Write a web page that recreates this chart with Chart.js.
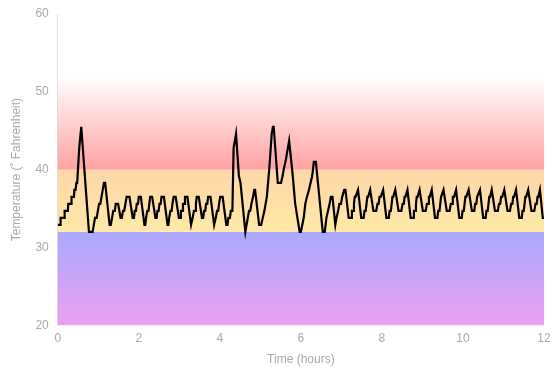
<!DOCTYPE html>
<html>
<head>
<meta charset="utf-8">
<script src="https://cdn.jsdelivr.net/npm/chart.js@4.4.1/dist/chart.umd.min.js"></script>
<style>
  html, body { margin: 0; padding: 0; background: #fff; }
  #wrap { width: 560px; height: 378px; }
</style>
</head>
<body>
<div id="wrap"><canvas id="tempChart" width="560" height="378"></canvas></div>
<script>
// Readings: [time in hours, temperature in F]
const readings = [
  [0.00, 32.9], [0.06, 32.9], [0.07, 33.8], [0.16, 33.8], [0.17, 34.7], [0.25, 34.7],
  [0.26, 35.6], [0.33, 35.6], [0.34, 36.5], [0.40, 36.5], [0.41, 37.4], [0.44, 37.4],
  [0.46, 38.3], [0.48, 38.3], [0.53, 42.8], [0.58, 45.5], [0.77, 32.0], [0.86, 32.0],
  [0.89, 32.9], [0.92, 33.8], [0.96, 33.8], [0.99, 34.7], [1.02, 35.6], [1.05, 35.6],
  [1.08, 36.5], [1.11, 37.4], [1.14, 38.3], [1.17, 38.3], [1.28, 32.9], [1.31, 32.9],
  [1.34, 33.8], [1.37, 34.7], [1.41, 34.7], [1.43, 35.6], [1.49, 35.6], [1.55, 33.8],
  [1.58, 33.8], [1.61, 34.7], [1.64, 34.7], [1.67, 35.6], [1.70, 36.5], [1.77, 36.5],
  [1.85, 33.8], [1.88, 33.8], [1.90, 34.7], [1.93, 34.7], [1.95, 35.6], [1.98, 35.6], [2.00, 36.5], [2.05, 36.5],
  [2.14, 32.9], [2.16, 32.9], [2.18, 33.8], [2.21, 34.7], [2.24, 34.7], [2.26, 35.6], [2.28, 36.5], [2.33, 36.5],
  [2.41, 33.8], [2.44, 33.8], [2.46, 34.7], [2.49, 34.7], [2.51, 35.6], [2.54, 35.6], [2.56, 36.5], [2.62, 36.5],
  [2.71, 32.9], [2.73, 32.9], [2.75, 33.8], [2.78, 34.7], [2.81, 34.7], [2.83, 35.6], [2.86, 36.5], [2.91, 36.5],
  [2.99, 33.8], [3.02, 33.8], [3.04, 34.7], [3.07, 34.7], [3.09, 35.6], [3.12, 35.6], [3.14, 36.5], [3.20, 36.5],
  [3.29, 32.9], [3.31, 32.9], [3.33, 33.8], [3.36, 34.7], [3.39, 34.7], [3.41, 35.6], [3.43, 36.5], [3.48, 36.5],
  [3.56, 33.8], [3.59, 33.8], [3.61, 34.7], [3.64, 34.7], [3.66, 35.6], [3.69, 35.6], [3.71, 36.5], [3.77, 36.5],
  [3.86, 32.9], [3.88, 32.9], [3.90, 33.8], [3.93, 34.7], [3.96, 34.7], [3.98, 35.6], [4.01, 36.5], [4.07, 36.5],
  [4.16, 32.9], [4.19, 32.9], [4.21, 33.8], [4.25, 33.8], [4.27, 34.7], [4.31, 34.7], [4.34, 42.8], [4.37, 43.7],
  [4.40, 44.6], [4.42, 44.6], [4.47, 39.2], [4.51, 38.3], [4.63, 32.0],
  [4.66, 32.9], [4.69, 33.8], [4.72, 34.7], [4.75, 34.7], [4.78, 35.6], [4.82, 36.5], [4.85, 37.4], [4.87, 37.4],
  [4.97, 32.9], [5.02, 32.9], [5.06, 33.8], [5.10, 34.7], [5.13, 35.6], [5.16, 36.5], [5.22, 40.1], [5.28, 44.6],
  [5.31, 45.5], [5.33, 45.5], [5.43, 38.3], [5.51, 38.3], [5.55, 39.2], [5.58, 40.1], [5.62, 41.0], [5.65, 41.9],
  [5.68, 42.8], [5.71, 43.7], [5.73, 43.7], [5.80, 39.2], [5.86, 35.6], [5.97, 32.0], [6.00, 32.0],
  [6.07, 33.8], [6.11, 35.6], [6.15, 36.5], [6.20, 37.4], [6.24, 38.3], [6.28, 39.2], [6.32, 41.0], [6.37, 41.0],
  [6.54, 32.0], [6.59, 32.0], [6.63, 33.8], [6.67, 34.7], [6.71, 35.6], [6.74, 36.5], [6.78, 36.5],
  [6.85, 32.9], [6.88, 33.8], [6.92, 34.7], [6.95, 35.6], [6.99, 35.6], [7.02, 36.5], [7.07, 37.4], [7.10, 37.4],
  [7.18, 33.8], [7.24, 33.8], [7.26, 34.7], [7.29, 34.7], [7.31, 35.6], [7.33, 36.5], [7.35, 36.5], [7.41, 37.4],
  [7.49, 33.8], [7.55, 33.8], [7.57, 34.7], [7.60, 34.7], [7.62, 35.6], [7.64, 36.5], [7.66, 36.5], [7.71, 37.4],
  [7.79, 34.7], [7.86, 34.7], [7.89, 35.6], [7.92, 35.6], [7.94, 36.5], [7.97, 36.5], [8.03, 37.4],
  [8.11, 33.8], [8.17, 33.8], [8.19, 34.7], [8.22, 34.7], [8.24, 35.6], [8.26, 36.5], [8.28, 36.5], [8.33, 37.4],
  [8.41, 34.7], [8.48, 34.7], [8.51, 35.6], [8.54, 35.6], [8.56, 36.5], [8.58, 36.5], [8.63, 37.4],
  [8.71, 33.8], [8.77, 33.8], [8.79, 34.7], [8.82, 34.7], [8.84, 35.6], [8.86, 36.5], [8.88, 36.5], [8.93, 37.4],
  [9.01, 34.7], [9.08, 34.7], [9.11, 35.6], [9.14, 35.6], [9.16, 36.5], [9.18, 36.5], [9.23, 37.4],
  [9.31, 33.8], [9.37, 33.8], [9.39, 34.7], [9.42, 34.7], [9.44, 35.6], [9.46, 36.5], [9.48, 36.5], [9.52, 37.4],
  [9.60, 34.7], [9.67, 34.7], [9.70, 35.6], [9.73, 35.6], [9.75, 36.5], [9.78, 36.5], [9.83, 37.4],
  [9.91, 33.8], [9.97, 33.8], [9.99, 34.7], [10.02, 34.7], [10.04, 35.6], [10.06, 36.5], [10.08, 36.5], [10.14, 37.4],
  [10.22, 34.7], [10.28, 34.7], [10.30, 35.6], [10.33, 35.6], [10.35, 36.5], [10.37, 36.5], [10.42, 37.4],
  [10.50, 33.8], [10.56, 33.8], [10.58, 34.7], [10.61, 34.7], [10.63, 35.6], [10.65, 36.5], [10.67, 36.5], [10.71, 37.4],
  [10.79, 34.7], [10.86, 34.7], [10.89, 35.6], [10.92, 35.6], [10.94, 36.5], [10.97, 36.5], [11.02, 37.4],
  [11.10, 34.7], [11.16, 34.7], [11.19, 35.6], [11.22, 35.6], [11.24, 36.5], [11.26, 36.5], [11.31, 37.4],
  [11.39, 33.8], [11.45, 33.8], [11.47, 34.7], [11.50, 34.7], [11.52, 35.6], [11.54, 36.5], [11.56, 36.5], [11.61, 37.4],
  [11.69, 34.7], [11.76, 34.7], [11.79, 35.6], [11.82, 35.6], [11.84, 36.5], [11.86, 36.5], [11.90, 37.4],
  [11.97, 33.8], [12.00, 33.8]
];

// Zone limits (F)
const coldZone = [20, 32];
const safeZone = [32, 40];
const warmZone = [40, 52];

const xRange = [0, 12];
const yRange = [20, 60];

const axisColor = '#aaa';

// Colored temperature zones behind the line
const zonesPlugin = {
  id: 'zones',
  beforeDatasetsDraw(chart) {
    const { ctx, chartArea, scales } = chart;
    const y = scales.y;
    const left = chartArea.left;
    const width = chartArea.right - chartArea.left;

    function band(range, bottomColor, topColor) {
      const yb = y.getPixelForValue(range[0]);
      const yt = y.getPixelForValue(range[1]);
      const g = ctx.createLinearGradient(0, yb, 0, yt);
      g.addColorStop(0, bottomColor);
      g.addColorStop(1, topColor);
      ctx.fillStyle = g;
      ctx.fillRect(left, yt, width, yb - yt);
    }

    ctx.save();
    band(coldZone, '#eca0f0', '#a9a9fe');
    band(safeZone, '#ffe9a6', '#fdd6a8');
    band(warmZone, 'rgba(255,162,162,1)', 'rgba(255,162,162,0)');
    ctx.restore();
  }
};

const ctx = document.getElementById('tempChart').getContext('2d');
new Chart(ctx, {
  type: 'line',
  data: {
    datasets: [{
      data: readings.map(r => ({ x: r[0], y: r[1] })),
      borderColor: '#000',
      borderWidth: 2.2,
      pointRadius: 0,
      tension: 0,
      fill: false
    }]
  },
  options: {
    responsive: false,
    animation: false,
    layout: { padding: { top: 14, right: 16, bottom: 7, left: 5 } },
    plugins: {
      legend: { display: false },
      tooltip: { enabled: false }
    },
    scales: {
      x: {
        type: 'linear',
        min: xRange[0],
        max: xRange[1],
        grid: { display: false, tickLength: 6 },
        border: { display: false },
        ticks: { stepSize: 2, color: axisColor, font: { size: 12 }, padding: 0 },
        title: { display: true, text: 'Time (hours)', color: axisColor, font: { size: 12 }, padding: { top: 7, bottom: 4 } }
      },
      y: {
        min: yRange[0],
        max: yRange[1],
        grid: { display: false },
        border: { display: true, color: '#e0e0e0', width: 1 },
        ticks: { stepSize: 10, color: axisColor, font: { size: 12 }, padding: 1 },
        title: { display: true, text: 'Temperature (˚ Fahrenheit)', color: axisColor, font: { size: 12 }, padding: { top: 4, bottom: 11 } }
      }
    }
  },
  plugins: [zonesPlugin]
});
</script>
</body>
</html>
